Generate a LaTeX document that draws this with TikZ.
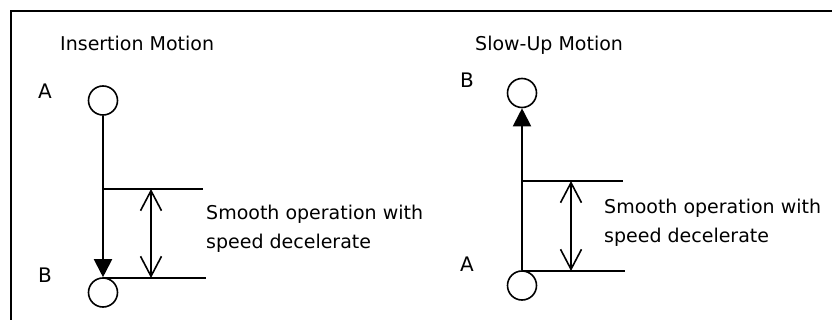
\documentclass[tikz,border=0pt]{standalone}
\usepackage{fontspec}
\setmainfont{DejaVu Sans}
\usetikzlibrary{arrows.meta}
\begin{document}
\begin{tikzpicture}[x=1pt,y=-1pt,
  ball/.style={circle,draw,line width=1.6pt,minimum size=29pt,inner sep=0pt},
  lbl/.style={anchor=base west,inner sep=0pt,font=\fontsize{20}{24}\selectfont},
  ttl/.style={anchor=base west,inner sep=0pt,font=\fontsize{19}{24}\selectfont},
  note/.style={anchor=north west,inner sep=0pt,align=left,font=\fontsize{19}{28.4}\selectfont},
  motion/.style={line width=2pt,-{Triangle[length=18pt,width=18pt]}},
  level/.style={line width=2pt},
  span/.style={line width=2pt,{Straight Barb[length=20pt,width=21pt,line width=1.6pt]}-{Straight Barb[length=20pt,width=21pt,line width=1.6pt]}}
]
\useasboundingbox (0,0) rectangle (832,320);
\begin{scope}
\clip (0,0) rectangle (832,320);
\draw[line width=2pt] (11,330) -- (11,11) -- (840,11);
\end{scope}

% Left: Insertion Motion
\node[ttl] (t1) at (60,51) {Insertion Motion};
\node[lbl] (la1) at (38,98.5) {A};
\node[lbl] (lb1) at (38,282) {B};
\node[ball] (A1) at (103,100.5) {};
\node[ball] (B1) at (103,292.5) {};
\coordinate (h1a) at (103,189);
\coordinate (h1b) at (203,189);
\coordinate (h2a) at (103,278);
\coordinate (h2b) at (206,278);
\coordinate (s1a) at (151,189);
\coordinate (s1b) at (151,278);
\draw[motion] (A1.south) -- (B1.north);
\draw[level] (h1a) -- (h1b);
\draw[level] (h2a) -- (h2b);
\draw[span] (s1a) -- (s1b);
\node[note] (n1) at (206,205) {Smooth operation with\\speed decelerate};

% Right: Slow-Up Motion
\node[ttl] (t2) at (475,51) {Slow-Up Motion};
\node[lbl] (lb2) at (460,88) {B};
\node[lbl] (la2) at (460,272) {A};
\node[ball] (B2) at (522,93) {};
\node[ball] (A2) at (522,285.5) {};
\coordinate (k1a) at (522,181);
\coordinate (k1b) at (623,181);
\coordinate (k2a) at (522,271);
\coordinate (k2b) at (625,271);
\coordinate (s2a) at (571,181);
\coordinate (s2b) at (571,271);
\draw[motion] (A2.north) -- (B2.south);
\draw[level] (k1a) -- (k1b);
\draw[level] (k2a) -- (k2b);
\draw[span] (s2a) -- (s2b);
\node[note] (n2) at (604,199) {Smooth operation with\\speed decelerate};
\end{tikzpicture}
\end{document}
